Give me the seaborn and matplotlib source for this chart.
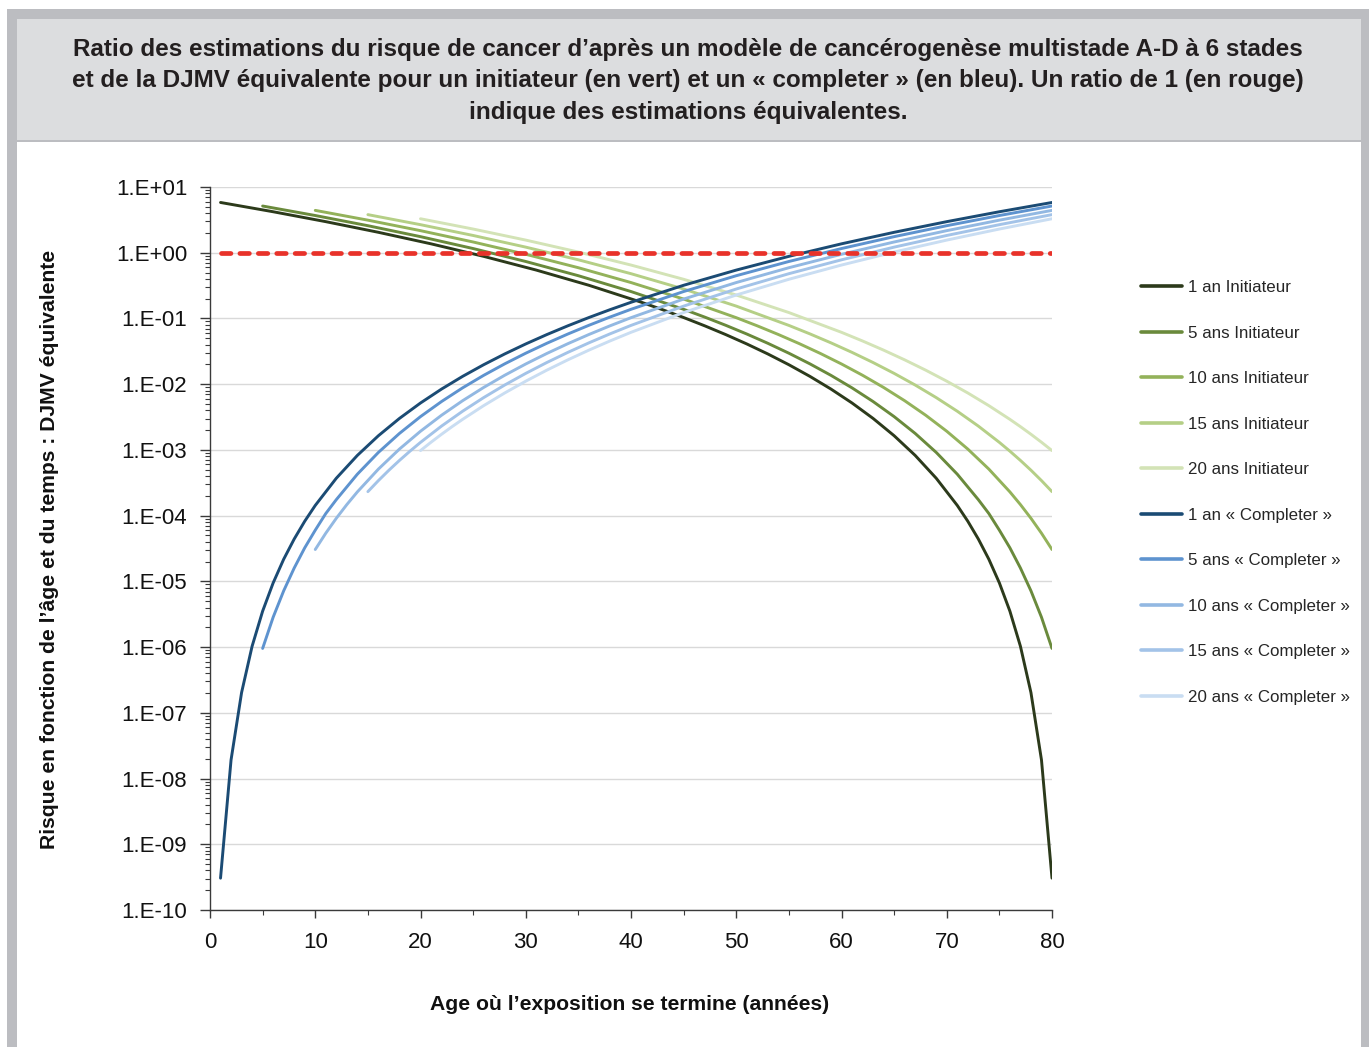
import matplotlib
matplotlib.use("Agg")
import matplotlib.pyplot as plt
from matplotlib.patches import Rectangle
from matplotlib.ticker import LogLocator, FixedLocator, FuncFormatter, NullFormatter
import seaborn as sns
import pandas as pd
import numpy as np

# ---------------- data ----------------
i1_age = [1, 6, 11, 16, 21, 26, 31, 36, 41, 43, 45, 47, 49, 51, 53, 55, 57, 59, 61, 63, 65, 67, 69, 71,
          72, 73, 74, 75, 76, 77, 78, 79, 80]
i1_val = [5.815, 4.203, 2.970, 2.045, 1.366, 0.8807, 0.5444, 0.3197, 0.17616, 0.13587, 0.10331, 7.7312e-2,
          5.6836e-2, 4.0948e-2, 2.8830e-2, 1.9768e-2, 1.3143e-2, 8.427e-3, 5.174e-3, 3.014e-3, 1.644e-3,
          8.248e-4, 3.706e-4, 1.430e-4, 8.22e-5, 4.41e-5, 2.17e-5, 9.47e-6, 3.52e-6, 1.03e-6, 2.03e-7,
          1.92e-8, 3.05e-10]

i5_age = [5, 10, 15, 20, 25, 30, 35, 40, 45, 47, 49, 51, 53, 55, 57, 59, 61, 63, 65, 67, 69, 71,
          73, 74, 75, 76, 77, 78, 79, 80]
i5_val = [5.137, 3.682, 2.578, 1.756, 1.158, 0.7358, 0.4469, 0.2568, 0.13780, 0.10495, 7.8691e-2, 5.7982e-2,
          4.1890e-2, 2.9594e-2, 2.0377e-2, 1.3620e-2, 8.7926e-3, 5.4469e-3, 3.2110e-3, 1.7813e-3, 9.1587e-4,
          4.2713e-4, 1.7507e-4, 1.0765e-4, 6.008e-5, 3.237e-5, 1.5955e-5, 7.177e-6, 2.848e-6, 9.537e-7]

i10_age = [10, 15, 20, 25, 30, 35, 40, 45, 50, 52, 54, 56, 58, 60, 62, 64, 66, 68, 70, 72, 74,
           76, 77, 78, 79, 80]
i10_val = [4.4096, 3.1299, 2.1665, 1.45686, 0.94699, 0.59133, 0.35184, 0.19731, 0.102753, 7.71804e-2,
           5.70027e-2, 4.13117e-2, 2.93079e-2, 2.02942e-2, 1.36682e-2, 8.9154e-3, 5.6022e-3, 3.3690e-3,
           1.9226e-3, 1.0300e-3, 5.1058e-4, 2.2966e-4, 1.4728e-4, 9.1123e-5, 5.4064e-5, 3.0518e-5]

i15_age = [15, 20, 25, 30, 35, 40, 45, 50, 55, 57, 59, 61, 63, 65, 67, 69, 71, 73,
           75, 76, 77, 78, 79, 80]
i15_val = [3.79894, 2.67177, 1.83041, 1.21651, 0.78028, 0.47983, 0.28049, 0.15411, 7.83663e-2, 5.82459e-2,
           4.25419e-2, 3.04720e-2, 2.13542e-2, 1.45998e-2, 9.70588e-3, 6.24887e-3, 3.87719e-3, 2.30433e-3,
           1.30176e-3, 9.5707e-4, 6.9197e-4, 4.9107e-4, 3.4133e-4, 2.3174e-4]

i20_age = [20, 25, 30, 35, 40, 45, 50, 55, 60, 62, 64, 66, 68, 70, 72, 74, 76, 77, 78, 79, 80]
i20_val = [3.28809, 2.29336, 1.55676, 1.02410, 0.649414, 0.394324, 0.227295, 0.122980, 6.15234e-2,
           4.54243e-2, 3.29591e-2, 2.34570e-2, 1.63384e-2, 1.11084e-2, 7.34906e-3, 4.71297e-3, 2.91594e-3,
           2.25884e-3, 1.73004e-3, 1.30869e-3, 9.7656e-4]

c1_age = [1, 2, 3, 4, 5, 6, 7, 8, 9, 10, 12, 14, 16, 18, 20, 22, 24, 26, 28, 30, 32, 34, 36, 38, 40,
          45, 50, 55, 60, 65, 70, 75, 80]
c1_val = [3.05e-10, 1.92e-8, 2.03e-7, 1.03e-6, 3.52e-6, 9.47e-6, 2.17e-5, 4.41e-5, 8.22e-5, 1.430e-4,
          3.706e-4, 8.248e-4, 1.644e-3, 3.014e-3, 5.174e-3, 8.427e-3, 1.3143e-2, 1.9768e-2, 2.8830e-2,
          4.0948e-2, 5.6836e-2, 7.7312e-2, 0.10331, 0.13587, 0.17616, 0.3197, 0.5444, 0.8807, 1.366,
          2.045, 2.970, 4.203, 5.815]

c5_age = [5, 6, 7, 8, 9, 10, 11, 12, 14, 16, 18, 20, 22, 24, 26, 28, 30, 32, 34, 36, 38, 40,
          45, 50, 55, 60, 65, 70, 75, 80]
c5_val = [9.537e-7, 2.848e-6, 7.177e-6, 1.5955e-5, 3.237e-5, 6.008e-5, 1.0765e-4, 1.7507e-4, 4.2713e-4,
          9.1587e-4, 1.7813e-3, 3.2110e-3, 5.4469e-3, 8.7926e-3, 1.3620e-2, 2.0377e-2, 2.9594e-2,
          4.1890e-2, 5.7982e-2, 7.8691e-2, 0.10495, 0.13780, 0.2568, 0.4469, 0.7358, 1.158, 1.756,
          2.578, 3.682, 5.137]

c10_age = [10, 11, 12, 13, 14, 16, 18, 20, 22, 24, 26, 28, 30, 32, 34, 36, 38, 40,
           45, 50, 55, 60, 65, 70, 75, 80]
c10_val = [3.0518e-5, 5.4064e-5, 9.1123e-5, 1.4728e-4, 2.2966e-4, 5.1058e-4, 1.0300e-3, 1.9226e-3,
           3.3690e-3, 5.6022e-3, 8.9154e-3, 1.36682e-2, 2.02942e-2, 2.93079e-2, 4.13117e-2, 5.70027e-2,
           7.71804e-2, 0.102753, 0.19731, 0.35184, 0.59133, 0.94699, 1.45686, 2.1665, 3.1299, 4.4096]

c15_age = [15, 16, 17, 18, 19, 20, 22, 24, 26, 28, 30, 32, 34, 36, 38, 40,
           45, 50, 55, 60, 65, 70, 75, 80]
c15_val = [2.3174e-4, 3.4133e-4, 4.9107e-4, 6.9197e-4, 9.5707e-4, 1.30176e-3, 2.30433e-3, 3.87719e-3,
           6.24887e-3, 9.70588e-3, 1.45998e-2, 2.13542e-2, 3.04720e-2, 4.25419e-2, 5.82459e-2, 7.83663e-2,
           0.15411, 0.28049, 0.47983, 0.78028, 1.21651, 1.83041, 2.67177, 3.79894]

c20_age = [20, 21, 22, 23, 24, 26, 28, 30, 32, 34, 36, 38, 40, 45, 50, 55, 60, 65, 70, 75, 80]
c20_val = [9.7656e-4, 1.30869e-3, 1.73004e-3, 2.25884e-3, 2.91594e-3, 4.71297e-3, 7.34906e-3, 1.11084e-2,
           1.63384e-2, 2.34570e-2, 3.29591e-2, 4.54243e-2, 6.15234e-2, 0.122980, 0.227295, 0.394324,
           0.649414, 1.02410, 1.55676, 2.29336, 3.28809]

ref_age = [1, 80]
ref_val = [1.0, 1.0]

series_labels = ["1 an Initiateur", "5 ans Initiateur", "10 ans Initiateur", "15 ans Initiateur",
                 "20 ans Initiateur", "1 an « Completer »", "5 ans « Completer »", "10 ans « Completer »",
                 "15 ans « Completer »", "20 ans « Completer »"]
series_data = [(i1_age, i1_val), (i5_age, i5_val), (i10_age, i10_val), (i15_age, i15_val),
               (i20_age, i20_val), (c1_age, c1_val), (c5_age, c5_val), (c10_age, c10_val),
               (c15_age, c15_val), (c20_age, c20_val)]
series_colors = ["#2c3a1b", "#6a8a3c", "#93b25a", "#b5cf86", "#d3e3b6",
                 "#1b4b74", "#5e93cf", "#92b8e2", "#a3c3e8", "#c9ddf2"]

y_ticks = [1e-10, 1e-9, 1e-8, 1e-7, 1e-6, 1e-5, 1e-4, 1e-3, 1e-2, 1e-1, 1e0, 1e1]
x_ticks = [0, 10, 20, 30, 40, 50, 60, 70, 80]
x_minor_ticks = [5, 15, 25, 35, 45, 55, 65, 75]

# ---------------- build long table ----------------
rows = []
for lab, (ages, vals) in zip(series_labels, series_data):
    for a, v in zip(ages, vals):
        rows.append({"age": a, "ratio": v, "serie": lab})
df = pd.DataFrame(rows)

# ---------------- style ----------------
sns.set_theme(style="white")
FONT = ["Liberation Sans Narrow", "Liberation Sans", "DejaVu Sans"]
plt.rcParams["font.family"] = FONT

W, H = 1369, 1047
fig = plt.figure(figsize=(W / 100, H / 100), dpi=100)
fig.patch.set_facecolor("white")

def fx(px):
    return px / W

def fy(py):
    return 1 - py / H

# frame and title band (drawn beneath the axes)
for (x0, y0, x1, y1, col) in [(7, 9, 1369, 1047, "#bcbdc1"), (17, 19, 1361, 1047, "white"),
                              (17, 19, 1361, 142, "#bcbdc1"), (17, 19, 1361, 140, "#dcdddf")]:
    fig.patches.append(Rectangle((fx(x0), fy(y1)), fx(x1) - fx(x0), fy(y0) - fy(y1),
                                 transform=fig.transFigure, facecolor=col, edgecolor="none", zorder=-5))

fig.text(fx(688), fy(81),
         "Ratio des estimations du risque de cancer d’après un modèle de cancérogenèse multistade A-D à 6 stades\n"
         "et de la DJMV équivalente pour un initiateur (en vert) et un « completer » (en bleu). Un ratio de 1 (en rouge)\n"
         "indique des estimations équivalentes.",
         ha="center", va="center", fontsize=17.5, fontweight="bold", color="#231f20",
         linespacing=1.48, family=FONT)

ax = fig.add_axes([fx(210), fy(910), fx(1052) - fx(210), fy(187) - fy(910)])
ax.set_facecolor("white")
ax.set_zorder(1)

palette = dict(zip(series_labels, series_colors))
sns.lineplot(data=df, x="age", y="ratio", hue="serie", hue_order=series_labels, palette=palette,
             estimator=None, sort=True, linewidth=2.1, ax=ax, legend=True)
for ln in ax.lines:
    ln.set_solid_capstyle("round")

ref_df = pd.DataFrame({"age": ref_age, "ratio": ref_val})
sns.lineplot(data=ref_df, x="age", y="ratio", color="#e8322a", linewidth=3.4, ax=ax,
             dashes=False, legend=False)
ax.lines[-1].set_dashes([2.0, 1.9])
ax.lines[-1].set_dash_capstyle("round")
ax.lines[-1].set_zorder(5)

ax.set_yscale("log")
ax.set_ylim(1e-10, 1e1)
ax.set_xlim(0, 80)

ax.yaxis.set_major_locator(FixedLocator(y_ticks))
ax.yaxis.set_major_formatter(FuncFormatter(lambda v, p: "1.E%+03d" % int(round(np.log10(v)))))
ax.yaxis.set_minor_locator(LogLocator(base=10, subs=np.arange(2, 10), numticks=30))
ax.yaxis.set_minor_formatter(NullFormatter())
ax.xaxis.set_major_locator(FixedLocator(x_ticks))
ax.xaxis.set_minor_locator(FixedLocator(x_minor_ticks))

ax.grid(True, axis="y", which="major", color="#d9d9d9", linewidth=1.0)
ax.set_axisbelow(True)
for s in ["top", "right"]:
    ax.spines[s].set_visible(False)
for s in ["left", "bottom"]:
    ax.spines[s].set_color("#3a3a3a")
    ax.spines[s].set_linewidth(1.0)

ax.tick_params(axis="both", which="major", direction="out", width=1, color="#3a3a3a",
               labelsize=16, labelcolor="#111111", left=True, bottom=True)
ax.tick_params(axis="both", which="minor", direction="out", width=0.8, color="#3a3a3a",
               left=True, bottom=True)
ax.tick_params(axis="y", which="major", length=7, pad=9.4)
ax.tick_params(axis="y", which="minor", length=3.6)
ax.tick_params(axis="x", which="major", length=5.5, pad=10)
ax.tick_params(axis="x", which="minor", length=3.5)
for t in ax.get_xticklabels() + ax.get_yticklabels():
    t.set_family(FONT)

ax.set_xlabel("")
ax.set_ylabel("")
fig.text(fx(630), fy(1004), "Age où l’exposition se termine (années)", ha="center", va="center",
         fontsize=15.2, fontweight="bold", color="#111111", family=FONT)
fig.text(fx(50), fy(549), "Risque en fonction de l’âge et du temps : DJMV équivalente", ha="center",
         va="center", rotation=90, fontsize=15.2, fontweight="bold", color="#111111", family=FONT)

leg = ax.legend(loc="upper left", bbox_to_anchor=(fx(1141), fy(280)), bbox_transform=fig.transFigure,
                frameon=False, handlelength=2.4, handletextpad=0.36, labelspacing=1.8,
                borderpad=0, borderaxespad=0, prop={"family": FONT, "size": 12.2})
for line in leg.get_lines():
    line.set_linewidth(2.6)

fig.savefig("out.png", dpi=100, facecolor="white")
